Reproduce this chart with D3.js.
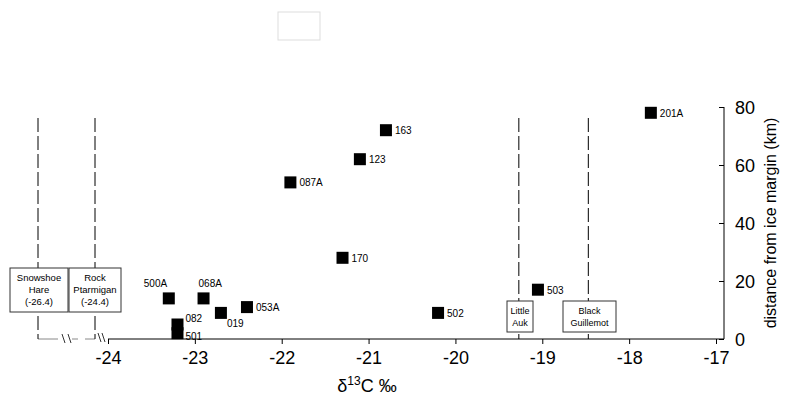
<!DOCTYPE html>
<html><head><meta charset="utf-8">
<script src="https://cdn.jsdelivr.net/npm/d3@7"></script>
<style>body{margin:0;background:#fff}text{font-family:Arial,"Liberation Sans",sans-serif}</style>
</head><body><svg width="790" height="405"></svg>
<script>
const labels = ["201A","163","123","087A","170","503","502","500A","068A","053A","019","082","501"];
const d13c   = [-17.75,-20.8,-21.1,-21.9,-21.3,-19.05,-20.2,-23.3,-22.9,-22.4,-22.7,-23.2,-23.2];
const dist   = [78,72,62,54,28,17,9,14,14,11,9,5,2];
const xTicks = [-24,-23,-22,-21,-20,-19,-18,-17];
const yTicks = [0,20,40,60,80];
const refNames = [["Little","Auk"],["Black","Guillemot"]];
const refValues = [-19.27,-18.47];

const svg = d3.select("svg");
const x = d3.scaleLinear().domain([-24,-17]).range([108,716]);
const y = d3.scaleLinear().domain([0,80]).range([339,107]);

// right y axis
const ya = svg.append("g").attr("transform","translate(724,0)")
  .call(d3.axisRight(y).tickValues(yTicks).tickSize(-5).tickPadding(11).tickFormat(d3.format("d")));
ya.select(".domain").attr("d","M0,339V107");
ya.selectAll("text").attr("font-size",18).attr("dy","0.35em");
svg.append("text").attr("transform","translate(776,223) rotate(-90)")
  .attr("text-anchor","middle").attr("font-size",16).text("distance from ice margin (km)");

// x axis
const xa = svg.append("g").attr("transform","translate(0,339)")
  .call(d3.axisBottom(x).tickValues(xTicks).tickSize(5).tickPadding(6).tickFormat(d3.format("d")));
xa.select(".domain").attr("d","M108,0H724");
xa.selectAll("text").attr("font-size",18).attr("dy","0.75em").text(d=>String(d).replace("-","-"));
svg.append("text").attr("x",367).attr("y",392).attr("text-anchor","middle")
  .attr("font-family","Liberation Serif,serif").attr("font-size",18)
  .html('δ<tspan dy="-7" font-size="12">13</tspan><tspan dy="7">C ‰</tspan>');

// broken axis part for off-scale species
svg.append("path").attr("d","M38,339H58 M72,339H78 M85,339H95").attr("stroke","#888").attr("fill","none");
svg.append("path").attr("d","M62,334L65,343 M68,334L71,343 M98,333L101,342 M102,333L105,342").attr("stroke","#333");

function refLine(px, lines, bx, by, bw, bh, fs){
  svg.append("line").attr("x1",px).attr("x2",px).attr("y1",118).attr("y2",339)
    .attr("stroke","#000").attr("stroke-dasharray","14,4");
  svg.append("rect").attr("x",bx).attr("y",by).attr("width",bw).attr("height",bh)
    .attr("fill","#fff").attr("stroke","#333");
  lines.forEach((l,i)=>svg.append("text").attr("x",bx+bw/2).attr("y",by+13+i*12)
    .attr("text-anchor","middle").attr("font-size",fs).text(l));
}
refLine(38,["Snowshoe","Hare","(-26.4)"],10,268,58,44,9.5);
refLine(95,["Rock","Ptarmigan","(-24.4)"],69,268,52,44,9.5);
refLine(x(refValues[0]),refNames[0],507,301,26,31,9);
refLine(x(refValues[1]),refNames[1],563,301,53,31,9);

// points
labels.forEach((l,i)=>{
  svg.append("rect").attr("x",x(d13c[i])-6).attr("y",y(dist[i])-6)
    .attr("width",12).attr("height",12).attr("fill","#000");
});
const off = {"500A":[-25,-11],"068A":[-5,-11],"019":[6,14],"082":[8,-3],"501":[8,7]};
labels.forEach((l,i)=>{
  const o = off[l] || [9,4];
  svg.append("text").attr("x",x(d13c[i])+o[0]).attr("y",y(dist[i])+o[1])
    .attr("font-size",10).text(l);
});

svg.append("rect").attr("x",278).attr("y",12).attr("width",42).attr("height",28)
  .attr("fill","#fff").attr("stroke","#ddd");
</script></body></html>
